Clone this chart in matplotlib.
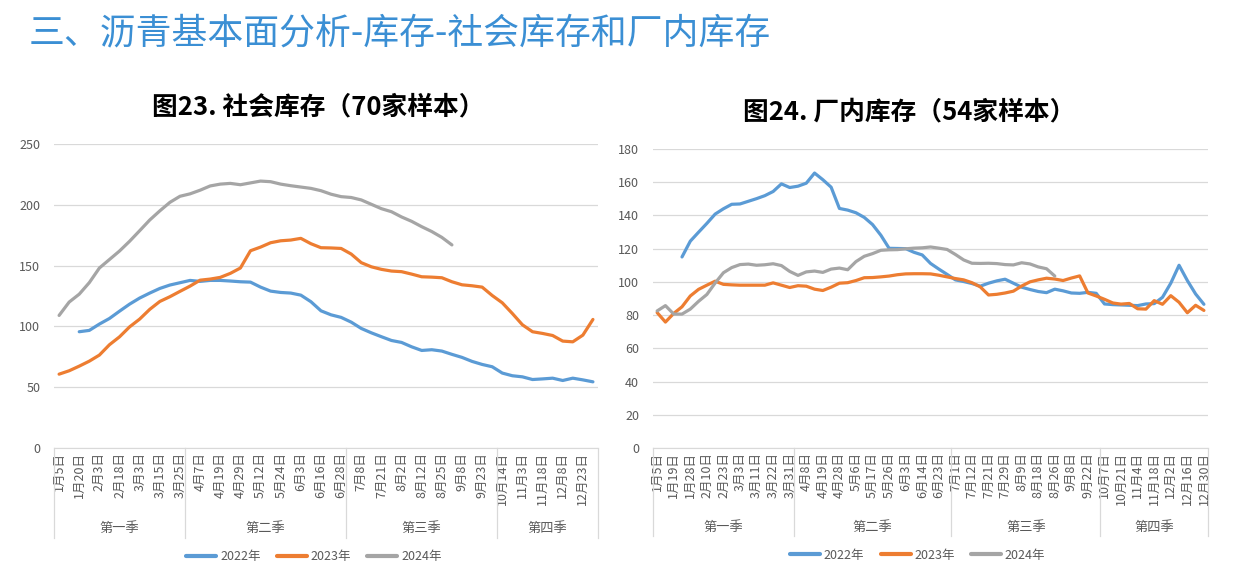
import matplotlib
matplotlib.use("Agg")
import matplotlib.pyplot as plt
import matplotlib.transforms as mtransforms
import numpy as np

plt.rcParams["font.family"] = ["Noto Sans CJK SC", "DejaVu Sans"]

HEADER = "三、沥青基本面分析-库存-社会库存和厂内库存"
YEARS = ["2022年", "2023年", "2024年"]
COLORS = ["#5B9BD5", "#ED7D31", "#A5A5A5"]
QUARTERS = ["第一季", "第二季", "第三季", "第四季"]

# ---- 图23 社会库存 (weekly categories, every 2nd one labelled)
soc_title = "图23. 社会库存（70家样本）"
soc_labels = [
    "1月5日", "1月20日", "2月3日", "2月18日", "3月3日", "3月15日", "3月25日",
    "4月7日", "4月19日", "4月29日", "5月12日", "5月24日", "6月3日", "6月16日", "6月28日",
    "7月8日", "7月21日", "8月2日", "8月12日", "8月25日", "9月8日", "9月23日",
    "10月14日", "11月3日", "11月18日", "12月8日", "12月23日",
]
soc_quarter_sizes = [13, 16, 15, 10]
soc_2022 = [
    None, None, 95.6, 96.7, 101.9, 106.5, 112.5, 118.3, 123.3, 127.4,
    131.2, 134.0, 135.9, 137.8, 137.0, 137.8, 137.8, 137.3, 136.7, 136.4,
    132.3, 129.0, 127.9, 127.4, 125.7, 120.3, 112.8, 109.5, 107.4, 103.5,
    98.3, 94.7, 91.5, 88.4, 86.8, 83.2, 80.2, 80.8, 79.7, 77.0,
    74.5, 71.2, 68.7, 66.8, 61.6, 59.4, 58.5, 56.3, 56.8, 57.4,
    55.5, 57.4, 56.0, 54.4,
]
soc_2023 = [
    60.7, 63.5, 67.3, 71.4, 76.4, 84.9, 91.4, 99.6, 106.0, 114.0,
    120.5, 124.4, 128.8, 133.1, 138.0, 138.9, 140.3, 143.6, 148.0, 162.2,
    165.2, 168.8, 170.4, 171.0, 172.4, 168.0, 164.7, 164.5, 164.1, 159.5,
    152.4, 149.0, 146.9, 145.5, 145.0, 143.0, 140.8, 140.5, 140.0, 136.7,
    134.2, 133.4, 132.3, 125.4, 119.4, 110.6, 101.3, 95.6, 94.2, 92.5,
    87.9, 87.3, 92.8, 105.7,
]
soc_2024 = [
    109.0, 120.0, 126.5, 136.0, 148.0, 155.0, 162.0, 170.0, 178.7, 187.5,
    195.0, 202.0, 207.0, 209.0, 212.0, 215.5, 217.0, 217.6, 216.5, 218.0,
    219.5, 219.0, 217.0, 215.7, 214.6, 213.5, 211.6, 208.7, 206.7, 206.0,
    204.0, 200.4, 196.8, 194.3, 190.0, 186.4, 182.0, 178.0, 173.2, 167.0,
]

# ---- 图24 厂内库存
fac_title = "图24. 厂内库存（54家样本）"
fac_labels = [
    "1月5日", "1月19日", "1月28日", "2月10日", "2月23日", "3月3日", "3月11日", "3月22日", "3月31日",
    "4月8日", "4月19日", "4月28日", "5月6日", "5月17日", "5月26日", "6月3日", "6月14日", "6月23日",
    "7月1日", "7月12日", "7月21日", "7月29日", "8月9日", "8月18日", "8月26日", "9月8日", "9月22日",
    "10月7日", "10月21日", "11月4日", "11月18日", "12月2日", "12月16日", "12月30日",
]
fac_quarter_sizes = [17, 19, 18, 13]
fac_2022 = [
    None, None, None, 115.0, 124.5, 129.9, 135.2, 140.8, 144.0, 146.7,
    146.9, 148.5, 150.1, 151.9, 154.4, 159.0, 156.8, 157.6, 159.4, 165.5,
    161.5, 157.0, 144.2, 143.2, 141.6, 138.8, 134.5, 128.1, 120.2, 120.1,
    120.0, 117.8, 116.2, 111.1, 107.7, 104.5, 101.2, 100.2, 99.0, 97.4,
    99.2, 100.6, 101.6, 99.2, 96.8, 95.4, 94.2, 93.5, 95.6, 94.6,
    93.3, 93.1, 93.7, 93.1, 86.7, 86.3, 86.1, 85.9, 85.7, 86.7,
    86.9, 90.7, 99.2, 110.0, 100.8, 92.7, 86.5,
]
fac_2023 = [
    81.5, 75.8, 81.0, 85.0, 91.5, 95.5, 98.0, 100.4, 98.5, 98.2,
    98.0, 98.0, 98.0, 98.0, 99.4, 98.0, 96.6, 97.7, 97.4, 95.6,
    94.8, 96.8, 99.2, 99.5, 100.8, 102.5, 102.6, 103.0, 103.5, 104.3,
    104.8, 104.9, 104.9, 104.8, 104.0, 103.0, 102.0, 101.2, 99.5, 97.0,
    92.1, 92.5, 93.3, 94.4, 97.5, 100.0, 101.2, 102.2, 101.7, 100.8,
    102.3, 103.6, 93.3, 91.5, 89.5, 87.3, 86.6, 87.0, 83.8, 83.6,
    88.7, 86.5, 91.7, 87.7, 81.4, 85.9, 82.8,
]
fac_2024 = [
    82.5, 85.7, 80.6, 80.6, 83.6, 88.3, 92.4, 99.3, 105.5, 108.6,
    110.4, 110.7, 110.0, 110.3, 110.9, 109.8, 106.3, 103.9, 106.0, 106.5,
    105.7, 107.7, 108.3, 107.3, 112.2, 115.4, 117.0, 119.0, 119.3, 119.4,
    119.9, 120.3, 120.5, 121.0, 120.3, 119.5, 116.5, 113.2, 111.2, 111.1,
    111.2, 111.0, 110.4, 110.2, 111.5, 110.8, 109.0, 107.9, 103.5,
]

GRID = "#D9D9D9"
TEXT = "#595959"


def draw_panel(ax, labels, quarter_sizes, series, ymax, ystep, legend_x):
    n_cat = sum(quarter_sizes)
    x = np.arange(n_cat)

    for values, color, name in zip(series, COLORS, YEARS):
        y = np.full(n_cat, np.nan)
        vals = np.array(values, dtype=float)
        y[: len(vals)] = vals
        ax.plot(x, y, color=color, lw=2.3, label=name, solid_capstyle="round")

    ax.set_xlim(-0.5, n_cat - 0.5)
    ax.set_ylim(0, ymax)
    ax.set_yticks(np.arange(0, ymax + 1, ystep))
    ax.yaxis.grid(True, color=GRID, lw=0.9)
    ax.set_axisbelow(True)

    for side in ["top", "right", "left"]:
        ax.spines[side].set_visible(False)
    ax.spines["bottom"].set_color(GRID)

    ax.set_xticks(x[::2])
    ax.set_xticklabels(labels, rotation=90, fontsize=9, color=TEXT)
    ax.tick_params(axis="x", length=0, pad=3)
    ax.tick_params(axis="y", length=0, pad=10, labelsize=9, labelcolor=TEXT)

    # quarter separators and labels under the axis
    trans = mtransforms.blended_transform_factory(ax.transData, ax.transAxes)
    edges = np.concatenate([[0], np.cumsum(quarter_sizes)]) - 0.5
    for b in edges:
        ax.plot([b, b], [0, -0.295], transform=trans, color=GRID,
                lw=0.9, clip_on=False)
    for q, (a, b) in enumerate(zip(edges[:-1], edges[1:])):
        ax.text((a + b) / 2, -0.266, QUARTERS[q], transform=trans,
                ha="center", va="center", fontsize=9.5, color=TEXT)

    leg = ax.legend(loc="center", bbox_to_anchor=(legend_x, -0.358), ncol=3,
                    frameon=False, fontsize=9, handlelength=2.4,
                    columnspacing=1.3, handletextpad=0.3)
    for t in leg.get_texts():
        t.set_color(TEXT)
    for line in leg.get_lines():
        line.set_linewidth(3)


fig = plt.figure(figsize=(12.37, 5.79), dpi=100)

fig.text(29 / 1237, 1 - 33 / 579, HEADER, fontsize=25.8, color="#3B8FD4",
         fontweight="light", ha="left", va="center")

ax1 = fig.add_axes([0.0437, 0.2263, 0.4397, 0.525])
draw_panel(ax1, soc_labels, soc_quarter_sizes,
           [soc_2022, soc_2023, soc_2024], 250, 50, 0.478)
fig.text(318 / 1237, 1 - 107 / 579, soc_title, fontsize=18.5,
         fontweight="bold", ha="center", va="center", color="black")

ax2 = fig.add_axes([0.5279, 0.2263, 0.4487, 0.5164])
draw_panel(ax2, fac_labels, fac_quarter_sizes,
           [fac_2022, fac_2023, fac_2024], 180, 20, 0.477)
fig.text(909 / 1237, 1 - 112 / 579, fac_title, fontsize=18.5,
         fontweight="bold", ha="center", va="center", color="black")

fig.savefig("out.png", dpi=100)
